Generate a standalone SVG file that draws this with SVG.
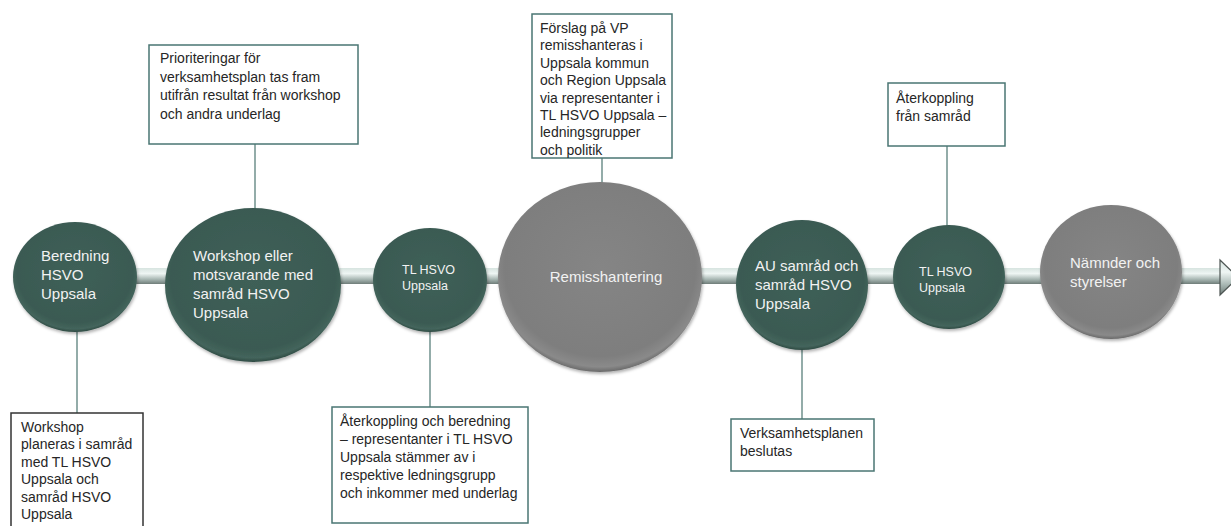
<svg xmlns="http://www.w3.org/2000/svg" width="1231" height="526" viewBox="0 0 1231 526">
<style>
.box{fill:#ffffff;stroke:#4a7673;stroke-width:1.5}
.box.dark{stroke:#333333}
.bt{font-family:"Liberation Sans",Arial,sans-serif;font-size:14px;fill:#262626}
.ct{font-family:"Liberation Sans",Arial,sans-serif;font-size:15px;fill:#f2f2f2}
.cts{font-family:"Liberation Sans",Arial,sans-serif;font-size:12.5px;fill:#f2f2f2}
.green{fill:url(#gGreen);filter:url(#shadow)}
.grey{fill:url(#gGrey);filter:url(#shadow)}
.conn line{stroke:#6f908d;stroke-width:1.5}
</style>
<defs>
<radialGradient id="gGreen" cx="50%" cy="45%" r="55%">
<stop offset="0" stop-color="#3f6058"/>
<stop offset="0.85" stop-color="#3a5a52"/>
<stop offset="0.95" stop-color="#44655c"/>
<stop offset="1" stop-color="#2e4a43"/>
</radialGradient>
<radialGradient id="gGrey" cx="50%" cy="45%" r="55%">
<stop offset="0" stop-color="#858585"/>
<stop offset="0.85" stop-color="#7e7e7e"/>
<stop offset="0.95" stop-color="#8a8a8a"/>
<stop offset="1" stop-color="#6a6a6a"/>
</radialGradient>
<linearGradient id="gBar" x1="0" y1="0" x2="0" y2="1">
<stop offset="0" stop-color="#d7e4e0"/>
<stop offset="0.35" stop-color="#eef5f3"/>
<stop offset="0.7" stop-color="#a9b8b4"/>
<stop offset="1" stop-color="#6f7d79"/>
</linearGradient>
<filter id="shadow" x="-10%" y="-10%" width="125%" height="125%">
<feDropShadow dx="1" dy="2" stdDeviation="1.5" flood-color="#000000" flood-opacity="0.3"/>
</filter>
</defs>

<g id="timeline">
<rect x="20" y="268" width="1201" height="16" fill="url(#gBar)"/>
<polygon points="1220,260 1238,277.5 1220,295" fill="url(#gBar)" stroke="#4d5553" stroke-width="1.2"/>
</g>

<g class="conn" id="connectors">
<line x1="255" y1="144" x2="255" y2="209"/>
<line x1="602" y1="158" x2="602" y2="183"/>
<line x1="947" y1="146" x2="947" y2="226"/>
<line x1="77" y1="331" x2="77" y2="413"/>
<line x1="430" y1="331" x2="430" y2="407"/>
<line x1="802" y1="349" x2="802" y2="419"/>
</g>

<g id="n-beredning">
<ellipse class="green" cx="75" cy="277" rx="62" ry="55"/>
<text class="ct"><tspan x="41" y="261">Beredning</tspan><tspan x="41" y="280">HSVO</tspan><tspan x="41" y="299">Uppsala</tspan></text>
</g>
<g id="n-workshop">
<ellipse class="green" cx="253" cy="285" rx="88" ry="77"/>
<text class="ct"><tspan x="193" y="261">Workshop eller</tspan><tspan x="193" y="280">motsvarande med</tspan><tspan x="193" y="299">samråd HSVO</tspan><tspan x="193" y="318">Uppsala</tspan></text>
</g>
<g id="n-tl1">
<ellipse class="green" cx="430" cy="280" rx="57" ry="52"/>
<text class="cts"><tspan x="402" y="274">TL HSVO</tspan><tspan x="402" y="290">Uppsala</tspan></text>
</g>
<g id="n-remiss">
<ellipse class="grey" cx="600" cy="277" rx="102" ry="95"/>
<text class="ct" x="606" y="282" text-anchor="middle">Remisshantering</text>
</g>
<g id="n-au">
<ellipse class="green" cx="802" cy="285" rx="66" ry="65"/>
<text class="ct"><tspan x="755" y="271">AU samråd och</tspan><tspan x="755" y="290">samråd HSVO</tspan><tspan x="755" y="309">Uppsala</tspan></text>
</g>
<g id="n-tl2">
<ellipse class="green" cx="949" cy="277" rx="56" ry="52"/>
<text class="cts"><tspan x="919" y="276">TL HSVO</tspan><tspan x="919" y="292">Uppsala</tspan></text>
</g>
<g id="n-namnder">
<ellipse class="grey" cx="1111" cy="272" rx="71" ry="67"/>
<text class="ct"><tspan x="1070" y="268">Nämnder och</tspan><tspan x="1070" y="287">styrelser</tspan></text>
</g>

<g id="b-prioriteringar">
<rect class="box" x="149" y="45" width="209" height="99"/>
<text class="bt"><tspan x="160" y="63">Prioriteringar för</tspan><tspan x="160" y="81.5">verksamhetsplan tas fram</tspan><tspan x="160" y="100">utifrån resultat från workshop</tspan><tspan x="160" y="118.5">och andra underlag</tspan></text>
</g>
<g id="b-forslag">
<rect class="box" x="532" y="14" width="140" height="144"/>
<text class="bt"><tspan x="540" y="33">Förslag på VP</tspan><tspan x="540" y="50.4">remisshanteras i</tspan><tspan x="540" y="67.8">Uppsala kommun</tspan><tspan x="540" y="85.2">och Region Uppsala</tspan><tspan x="540" y="102.6">via representanter i</tspan><tspan x="540" y="120">TL HSVO Uppsala –</tspan><tspan x="540" y="137.4">ledningsgrupper</tspan><tspan x="540" y="154.8">och politik</tspan></text>
</g>
<g id="b-aterkoppling-samrad">
<rect class="box" x="888" y="83" width="117" height="63"/>
<text class="bt"><tspan x="896" y="103">Återkoppling</tspan><tspan x="896" y="121">från samråd</tspan></text>
</g>
<g id="b-workshop-planeras">
<rect class="box dark" x="11" y="413" width="132" height="120"/>
<text class="bt"><tspan x="21" y="432">Workshop</tspan><tspan x="21" y="449.4">planeras i samråd</tspan><tspan x="21" y="466.8">med TL HSVO</tspan><tspan x="21" y="484.2">Uppsala och</tspan><tspan x="21" y="501.6">samråd HSVO</tspan><tspan x="21" y="519">Uppsala</tspan></text>
</g>
<g id="b-aterkoppling-beredning">
<rect class="box" x="332" y="407" width="196" height="116"/>
<text class="bt"><tspan x="340" y="425.5">Återkoppling och beredning</tspan><tspan x="340" y="443.5">– representanter i TL HSVO</tspan><tspan x="340" y="461.5">Uppsala stämmer av i</tspan><tspan x="340" y="479.5">respektive ledningsgrupp</tspan><tspan x="340" y="497.5">och inkommer med underlag</tspan></text>
</g>
<g id="b-verksamhetsplanen">
<rect class="box" x="731" y="419" width="143" height="52"/>
<text class="bt"><tspan x="740" y="438">Verksamhetsplanen</tspan><tspan x="740" y="455.5">beslutas</tspan></text>
</g>
</svg>
